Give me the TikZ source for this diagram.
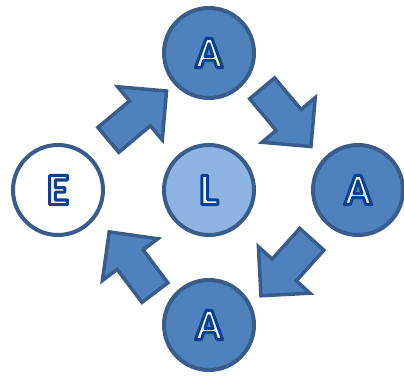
\documentclass[tikz,border=0pt]{standalone}
\usepackage{fontspec}
\setmainfont{Carlito}
\usetikzlibrary{shapes.arrows}

\definecolor{disc fill}{HTML}{4F81BD}
\definecolor{disc edge}{HTML}{385D8A}
\definecolor{light fill}{HTML}{8EB4E3}
\definecolor{letter face}{HTML}{F4F4F0}

% white letters with a blue rim (fill, then stroke)
\newcommand{\glyph}[1]{\textcolor{letter face}{\special{pdf:literal direct 2 Tr 3 w 1 j 0.04 0.25 0.57 RG}#1\special{pdf:literal direct 0 Tr}}}

\begin{document}
\begin{tikzpicture}[x=1pt,y=1pt,
    disc/.style={circle, minimum size=90pt, inner sep=0pt, line width=4pt, draw=disc edge, fill=disc fill, font=\fontsize{45}{45}\selectfont\bfseries},
    blockarrow/.style={single arrow, draw=disc edge, fill=disc fill, line width=3.5pt, inner xsep=0pt, inner ysep=14.5pt,
        single arrow head extend=18.5pt, single arrow head indent=0pt, single arrow tip angle=90, minimum height=76pt, anchor=tail}]
\useasboundingbox (0,0) rectangle (404,375);

    \node[disc] (A1) at (209,322) {\glyph{A}};
    \node[disc] (A2) at (358,185) {\glyph{A}};
    \node[disc] (A3) at (209,50) {\glyph{A}};
    \node[disc, fill=white] (E) at (58,185) {\glyph{E}};
    \node[disc, fill=light fill] (L) at (209,185) {\glyph{L}};

    % block arrows round the cycle
    \node[blockarrow, rotate=40] (EtoA) at (107,234) {};
    \node[blockarrow, rotate=-50] (AtoA) at (261,288) {};
    \node[blockarrow, rotate=228] (AtoB) at (313,137) {};
    \node[blockarrow, rotate=127] (AtoE) at (156,81) {};

\end{tikzpicture}
\end{document}
